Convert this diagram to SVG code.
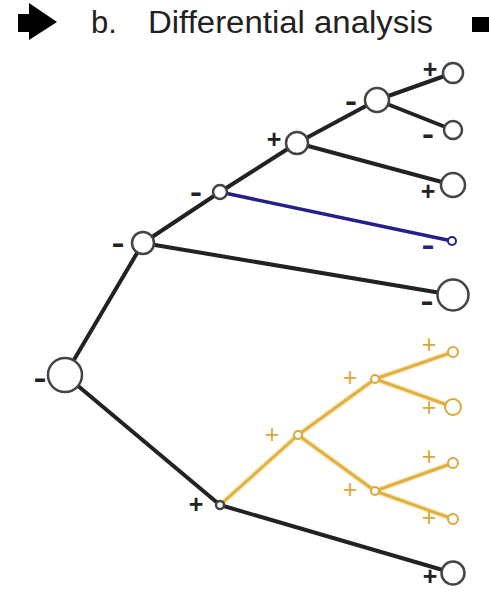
<svg xmlns="http://www.w3.org/2000/svg" width="489" height="593" viewBox="0 0 489 593">
<style>
.e{stroke:#222;stroke-width:4;fill:none;stroke-linecap:round}
.b{stroke:#23208a;stroke-width:3.5;fill:none;stroke-linecap:round}
.y{stroke:#e0b040;stroke-width:3;fill:none;stroke-linecap:round}
.yh{stroke:#f8ecc8;stroke-width:6;fill:none;stroke-linecap:round}
.n{fill:#fff;stroke:#444;stroke-width:2.5}
.nb{fill:#fff;stroke:#23208a;stroke-width:2}
.ny{fill:#fff;stroke:#d9a83a;stroke-width:2}
.l{font-family:"Liberation Sans",Arial,sans-serif;font-size:25px;fill:#222;text-anchor:middle;font-weight:bold}
.m{font-size:30px}
.lb{fill:#23208a}
.ly{fill:#d9a83a;font-weight:normal}
.t{font-family:"Liberation Sans",Arial,sans-serif;font-size:31px;fill:#222}
</style>
<g id="title">
<path d="M18 14 H29 V3 L57 22 L29 40 V32 H18 Z" fill="#000"/>
<text class="t" x="91" y="33">b.</text>
<text class="t" x="148" y="33" textLength="285" lengthAdjust="spacingAndGlyphs">Differential analysis</text>
<rect x="472" y="17" width="17" height="15" fill="#000"/>
</g>
<g id="connectors">
<line class="e" x1="65" y1="375" x2="143" y2="243"/>
<line class="e" x1="143" y1="243" x2="220" y2="192"/>
<line class="e" x1="143" y1="243" x2="453" y2="295"/>
<line class="e" x1="220" y1="192" x2="297" y2="143"/>
<line class="b" x1="220" y1="192" x2="452" y2="241"/>
<line class="e" x1="297" y1="143" x2="377" y2="100"/>
<line class="e" x1="297" y1="143" x2="453" y2="185"/>
<line class="e" x1="377" y1="100" x2="453" y2="73"/>
<line class="e" x1="377" y1="100" x2="453" y2="130"/>
<line class="e" x1="65" y1="375" x2="220" y2="505"/>
<line class="e" x1="220" y1="505" x2="453" y2="573"/>
<g>
<line class="yh" x1="220" y1="505" x2="298" y2="435"/>
<line class="yh" x1="298" y1="435" x2="375" y2="379"/>
<line class="yh" x1="298" y1="435" x2="375" y2="491"/>
<line class="yh" x1="375" y1="379" x2="453" y2="352"/>
<line class="yh" x1="375" y1="379" x2="453" y2="407"/>
<line class="yh" x1="375" y1="491" x2="453" y2="463"/>
<line class="yh" x1="375" y1="491" x2="453" y2="519"/>
<line class="y" x1="220" y1="505" x2="298" y2="435"/>
<line class="y" x1="298" y1="435" x2="375" y2="379"/>
<line class="y" x1="298" y1="435" x2="375" y2="491"/>
<line class="y" x1="375" y1="379" x2="453" y2="352"/>
<line class="y" x1="375" y1="379" x2="453" y2="407"/>
<line class="y" x1="375" y1="491" x2="453" y2="463"/>
<line class="y" x1="375" y1="491" x2="453" y2="519"/>
</g>
</g>
<g id="root"><circle class="n" cx="65" cy="375" r="17"/><text class="l m" x="40" y="388" textLength="13" lengthAdjust="spacingAndGlyphs">-</text></g>
<g id="nH"><circle class="n" cx="143" cy="243" r="11"/><text class="l m" x="118" y="253" textLength="13" lengthAdjust="spacingAndGlyphs">-</text></g>
<g id="nF"><circle class="n" cx="220" cy="192" r="7"/><text class="l m" x="196" y="202" textLength="12" lengthAdjust="spacingAndGlyphs">-</text></g>
<g id="nD"><circle class="n" cx="297" cy="143" r="11"/><text class="l" x="274" y="148">+</text></g>
<g id="nB"><circle class="n" cx="377" cy="100" r="12"/><text class="l m" x="351" y="111" textLength="12" lengthAdjust="spacingAndGlyphs">-</text></g>
<g id="leafA"><circle class="n" cx="453" cy="73" r="10"/><text class="l" x="430" y="78">+</text></g>
<g id="leafC"><circle class="n" cx="453" cy="130" r="9"/><text class="l m" x="428" y="144" textLength="12" lengthAdjust="spacingAndGlyphs">-</text></g>
<g id="leafE"><circle class="n" cx="453" cy="185" r="12"/><text class="l" x="428" y="200">+</text></g>
<g id="leafG"><circle class="nb" cx="452" cy="241" r="4"/><text class="l m lb" x="428" y="255" textLength="13" lengthAdjust="spacingAndGlyphs">-</text></g>
<g id="leafI"><circle class="n" cx="453" cy="295" r="15.5"/><text class="l m" x="427" y="311" textLength="13" lengthAdjust="spacingAndGlyphs">-</text></g>
<g id="nJ"><circle class="n" cx="220" cy="505" r="4"/><text class="l" x="196" y="513">+</text></g>
<g id="nK"><circle class="ny" cx="298" cy="435" r="4"/><text class="l ly" x="272" y="443">+</text></g>
<g id="nL"><circle class="ny" cx="375" cy="379" r="4"/><text class="l ly" x="350" y="386">+</text></g>
<g id="nO"><circle class="ny" cx="375" cy="491" r="4"/><text class="l ly" x="350" y="498">+</text></g>
<g id="leafM"><circle class="ny" cx="453" cy="352" r="5"/><text class="l ly" x="429" y="353">+</text></g>
<g id="leafN"><circle class="ny" cx="453" cy="407" r="8"/><text class="l ly" x="429" y="416">+</text></g>
<g id="leafP"><circle class="ny" cx="453" cy="463" r="5"/><text class="l ly" x="429" y="465">+</text></g>
<g id="leafQ"><circle class="ny" cx="453" cy="519" r="5"/><text class="l ly" x="429" y="526">+</text></g>
<g id="leafR"><circle class="n" cx="453" cy="573" r="11.5"/><text class="l" x="430" y="585">+</text></g>
</svg>
